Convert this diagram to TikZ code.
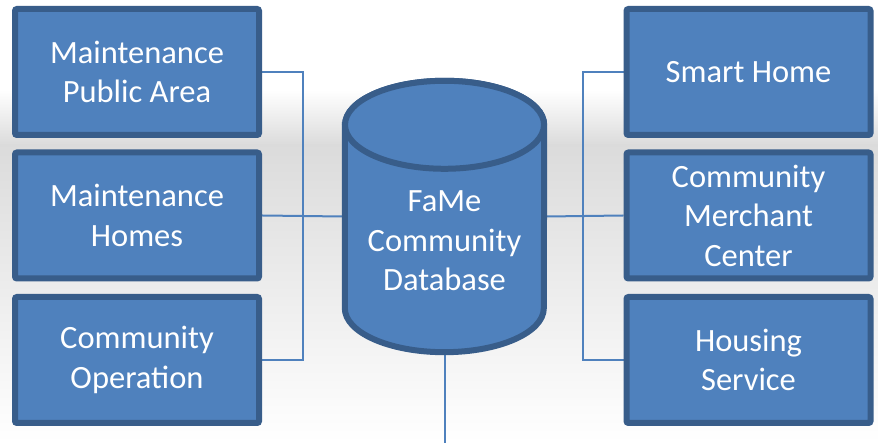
\documentclass[tikz,border=0pt]{standalone}
\usepackage{fontspec}
\setmainfont{Carlito}
\usepackage{tikz}
\usetikzlibrary{calc,backgrounds}

\definecolor{boxfill}{HTML}{4F81BD}
\definecolor{boxline}{HTML}{385D8A}

\begin{document}
\begin{tikzpicture}[x=1pt,y=1pt,
	box/.style={draw=boxline, fill=boxfill, line width=6pt, rounded corners=2pt, minimum width=244pt, minimum height=126pt, text=white, align=center, font=\fontsize{32.5}{39.5}\selectfont},
	cyl/.style={draw=boxline, fill=boxfill, line width=6pt},
	link/.style={draw=boxfill, line width=2pt}]
	
	\useasboundingbox (0,0) rectangle (878,443);
	
	\node[box] (mpa) at (137,371) {Maintenance\\Public Area};
	\node[box] (mh) at (137,227.5) {Maintenance\\Homes};
	\node[box] (co) at (137,83) {Community\\Operation};
	\node[box] (sh) at (748.5,371) {Smart Home};
	\node[box] (cmc) at (748.5,227.5) {Community\\Merchant\\Center};
	\node[box] (hs) at (748.5,83) {Housing\\Service};
	
	\node[minimum width=205pt, minimum height=277pt, inner sep=0pt] (db) at (444.5,226.5) {};
	\draw[cyl] ($(db.north west)+(3,-47)$) -- ($(db.south west)+(3,47)$)
		arc[start angle=180, end angle=360, x radius=99.5pt, y radius=44pt]
		-- ($(db.north east)+(-3,-47)$)
		arc[start angle=0, end angle=180, x radius=99.5pt, y radius=44pt] -- cycle;
	\draw[cyl] ($(db.north)+(0,-47)$) ellipse[x radius=99.5pt, y radius=44pt];
	\node[text=white, align=center, font=\fontsize{32.5}{39.5}\selectfont] (dbtxt) at (444.5,202) {FaMe\\Community\\Database};
	
	\coordinate (lbus) at (303,227);
	\coordinate (rbus) at (583,227);
	\coordinate (out) at (444.5,0);
	
	\begin{scope}[on background layer]
		\fill[white] (0,0) rectangle (878,443);
		\shade[top color=white, bottom color=black!14] (0,298) rectangle (878,353);
		\shade[top color=black!14, bottom color=white] (0,0) rectangle (878,298);
		
		\draw[link] (mpa.east) -- (mpa.east -| lbus) -- (co.east -| lbus) -- (co.east);
		\draw[link] (mh.east) -- (db.west);
		\draw[link] (sh.west) -- (sh.west -| rbus) -- (hs.west -| rbus) -- (hs.west);
		\draw[link] (db.east) -- (cmc.west);
		\draw[link] (db.south) -- (out);
	\end{scope}
	
\end{tikzpicture}
\end{document}
